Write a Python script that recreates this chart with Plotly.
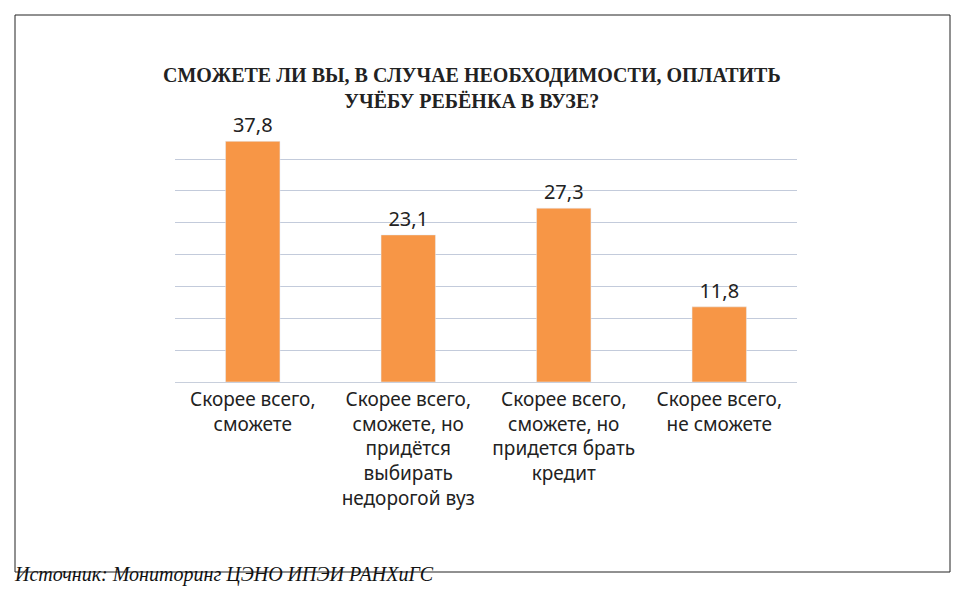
import plotly.graph_objects as go

categories = ["Скорее всего,<br>сможете", "Скорее всего,<br>сможете, но<br>придётся<br>выбирать<br>недорогой вуз",
              "Скорее всего,<br>сможете, но<br>придется брать<br>кредит", "Скорее всего,<br>не сможете"]
values = [37.8, 23.1, 27.3, 11.8]
labels = ["37,8", "23,1", "27,3", "11,8"]

OFF = 8
L, R, T, B = 175 - OFF, 797 - OFF, 127 - OFF, 382 - OFF
W, H = 960, 607
def px(x): return (x - OFF - L) / (R - L)
def py(y): return (B - (y - OFF)) / (B - T)

fig = go.Figure(go.Bar(x=categories, y=values, text=labels, textposition="outside",
                       marker_color="#F79646", textfont=dict(size=20, color="#222"),
                       cliponaxis=False))
fig.update_layout(
    width=W, height=H, margin=dict(l=L, r=W - R, t=T, b=H - B),
    paper_bgcolor="white", plot_bgcolor="white", bargap=0.65, showlegend=False,
    font=dict(family="Noto Sans", color="#222"),
    xaxis=dict(showline=True, linecolor="#c8cfdc", tickfont=dict(size=19), ticks=""),
    yaxis=dict(range=[0, 40.05], dtick=5, showticklabels=False, gridcolor="#c3cbdb", zeroline=False),
    shapes=[dict(type="rect", xref="paper", yref="paper", x0=px(15), x1=px(950), y0=py(15), y1=py(572),
                 line=dict(color="#222", width=1))],
    annotations=[
        dict(text="<b>СМОЖЕТЕ ЛИ ВЫ, В СЛУЧАЕ НЕОБХОДИМОСТИ, ОПЛАТИТЬ<br>УЧЁБУ РЕБЁНКА В ВУЗЕ?</b>",
             xref="paper", yref="paper", x=px(472), y=py(62), showarrow=False,
             font=dict(size=20, color="#222", family="Liberation Sans Narrow"), align="center"),
        dict(text="<i>Источник: Мониторинг ЦЭНО ИПЭИ РАНХиГС</i>", xref="paper", yref="paper",
             x=px(12), y=py(588), xanchor="left", showarrow=False,
             font=dict(size=20, color="#111", family="Liberation Serif")),
    ],
)
fig.write_html("out.html")
